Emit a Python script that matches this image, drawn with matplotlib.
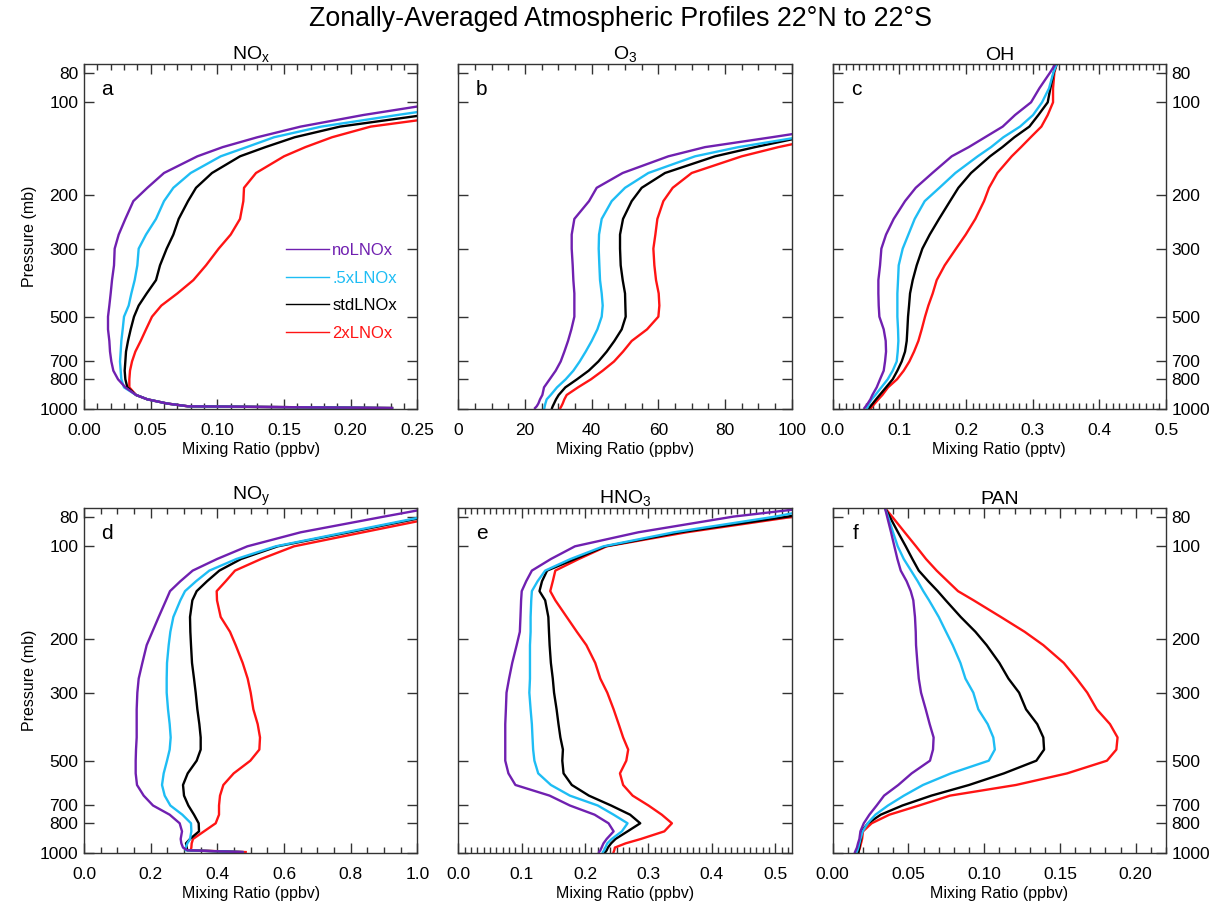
import matplotlib
matplotlib.use("Agg")
import matplotlib.pyplot as plt
from matplotlib.lines import Line2D
from matplotlib.ticker import MultipleLocator, NullLocator, FormatStrFormatter

plt.rcParams['font.family'] = ['Liberation Sans', 'DejaVu Sans']
plt.rcParams['mathtext.default'] = 'regular'

# pressure levels (mb), surface -> top
lev = [993, 980, 960, 930, 900, 850, 800, 750, 700, 650, 600, 550, 500, 460, 420,
       380, 340, 300, 270, 240, 210, 190, 170, 150, 140, 130, 120, 110, 100, 90, 80, 75]

# a) NOx (ppbv)
nox_no = [0.231, 0.078, 0.0625, 0.0475, 0.039, 0.031, 0.0255, 0.022, 0.0205, 0.0195, 0.019, 0.018,
          0.018, 0.019, 0.020, 0.021, 0.0225, 0.023, 0.026, 0.031, 0.037, 0.0475, 0.060, 0.085,
          0.104, 0.130, 0.1625, 0.2095, 0.27, 0.36, 0.48, 0.55]
nox_half = [0.231, 0.078, 0.0625, 0.0475, 0.039, 0.030, 0.028, 0.0275, 0.027, 0.0275, 0.028, 0.029,
            0.030, 0.0335, 0.0355, 0.038, 0.040, 0.041, 0.0465, 0.054, 0.060, 0.067, 0.080, 0.1025,
            0.122, 0.1425, 0.178, 0.235, 0.30, 0.40, 0.52, 0.60]
nox_std = [0.231, 0.078, 0.0625, 0.0475, 0.039, 0.0325, 0.031, 0.0305, 0.031, 0.0315, 0.033, 0.035,
           0.0375, 0.041, 0.047, 0.054, 0.057, 0.062, 0.067, 0.071, 0.078, 0.084, 0.096, 0.117,
           0.136, 0.158, 0.192, 0.255, 0.32, 0.42, 0.55, 0.62]
nox_2x = [0.231, 0.078, 0.0625, 0.0475, 0.039, 0.034, 0.034, 0.0345, 0.036, 0.0385, 0.0425, 0.0465,
          0.051, 0.058, 0.070, 0.082, 0.0915, 0.101, 0.110, 0.117, 0.1195, 0.120, 0.129, 0.150,
          0.166, 0.186, 0.215, 0.28, 0.36, 0.47, 0.60, 0.68]

# b) O3 (ppbv)
o3_no = [23, 23.5, 24, 24.5, 25.2, 25.7, 27.4, 29.2, 30.7, 31.8, 32.9, 33.9, 34.8, 34.8, 34.8,
         34.5, 34.3, 34, 34, 34.8, 39.2, 41.5, 49.3, 63, 74, 94, 115, 135, 170, 220, 280, 350]
o3_half = [25.8, 25.9, 26.1, 26.5, 27.7, 29.6, 32.2, 34.5, 36.4, 38.2, 40, 41.7, 43, 43.3, 43,
           42.5, 42.3, 42.1, 42.2, 43, 46, 50, 57, 71, 84, 102, 120, 140, 175, 225, 285, 350]
o3_std = [28.1, 28.3, 28.7, 29.3, 30.1, 32.1, 35.6, 39.1, 42, 44.5, 46.8, 49, 50.2, 50.1, 50,
          49.3, 48.7, 48.5, 48.5, 49.4, 52, 55, 62, 77, 89, 103, 125, 145, 180, 230, 290, 350]
o3_2x = [30.6, 30.9, 31.3, 31.8, 32.5, 35.9, 39.8, 43.3, 46.7, 49.4, 52, 56.6, 60, 60.3, 60.1,
         59.3, 58.8, 58.5, 59.1, 59.7, 61.5, 64.3, 70, 85, 96, 110, 130, 155, 190, 240, 300, 360]

# c) OH (pptv)
oh_no = [0.0475, 0.0495, 0.0525, 0.0565, 0.0595, 0.066, 0.071, 0.0765, 0.0785, 0.080, 0.0795, 0.0765,
         0.070, 0.069, 0.0685, 0.0685, 0.071, 0.073, 0.080, 0.0915, 0.1085, 0.1245, 0.1495, 0.1785,
         0.204, 0.2285, 0.255, 0.2735, 0.2975, 0.310, 0.326, 0.334]
oh_half = [0.0515, 0.053, 0.0545, 0.0585, 0.064, 0.073, 0.0825, 0.090, 0.096, 0.0975, 0.0985, 0.098,
           0.097, 0.097, 0.097, 0.098, 0.099, 0.105, 0.1135, 0.123, 0.138, 0.160, 0.184, 0.2175,
           0.2375, 0.256, 0.281, 0.3005, 0.314, 0.3245, 0.331, 0.336]
oh_std = [0.0545, 0.0565, 0.060, 0.065, 0.0705, 0.080, 0.090, 0.097, 0.1035, 0.1085, 0.111, 0.112,
          0.113, 0.1145, 0.116, 0.120, 0.126, 0.1345, 0.1455, 0.1595, 0.176, 0.1885, 0.2075, 0.236,
          0.2545, 0.2725, 0.295, 0.3085, 0.3225, 0.3265, 0.3315, 0.336]
oh_2x = [0.0575, 0.0595, 0.063, 0.0685, 0.0745, 0.083, 0.0965, 0.1065, 0.115, 0.122, 0.1285, 0.1335,
         0.1385, 0.1435, 0.150, 0.156, 0.168, 0.185, 0.1995, 0.214, 0.227, 0.2345, 0.247, 0.2685,
         0.2825, 0.297, 0.313, 0.3225, 0.3305, 0.3305, 0.3325, 0.336]

# d) NOy (ppbv)
noy_no = [0.475, 0.31, 0.297, 0.292, 0.29, 0.294, 0.287, 0.257, 0.207, 0.179, 0.159, 0.155,
          0.155, 0.156, 0.158, 0.158, 0.158, 0.160, 0.164, 0.175, 0.188, 0.205, 0.224, 0.246,
          0.258, 0.289, 0.326, 0.399, 0.49, 0.65, 0.90, 1.04]
noy_half = [0.475, 0.305, 0.305, 0.31, 0.318, 0.322, 0.321, 0.295, 0.259, 0.242, 0.234, 0.239,
            0.249, 0.257, 0.26, 0.257, 0.252, 0.248, 0.248, 0.249, 0.254, 0.259, 0.268, 0.289,
            0.303, 0.336, 0.376, 0.457, 0.575, 0.785, 1.02, 1.10]
noy_std = [0.475, 0.31, 0.308, 0.306, 0.318, 0.345, 0.344, 0.33, 0.313, 0.30, 0.297, 0.311,
           0.338, 0.35, 0.35, 0.346, 0.34, 0.335, 0.33, 0.324, 0.321, 0.319, 0.318, 0.325,
           0.338, 0.369, 0.406, 0.471, 0.581, 0.795, 1.03, 1.10]
noy_2x = [0.485, 0.32, 0.322, 0.323, 0.327, 0.36, 0.395, 0.405, 0.405, 0.408, 0.418, 0.449,
          0.499, 0.526, 0.528, 0.521, 0.508, 0.50, 0.491, 0.476, 0.455, 0.438, 0.41, 0.399,
          0.398, 0.425, 0.453, 0.531, 0.63, 0.837, 1.07, 1.15]

# e) HNO3 (ppbv)
hno3_no = [0.222, 0.224, 0.226, 0.229, 0.234, 0.245, 0.237, 0.215, 0.176, 0.144, 0.09, 0.079,
           0.074, 0.074, 0.074, 0.074, 0.075, 0.076, 0.08, 0.085, 0.092, 0.097, 0.098, 0.099,
           0.10, 0.107, 0.116, 0.146, 0.184, 0.284, 0.434, 0.55]
hno3_half = [0.228, 0.23, 0.232, 0.235, 0.242, 0.258, 0.267, 0.245, 0.22, 0.176, 0.146, 0.126,
             0.12, 0.118, 0.117, 0.116, 0.114, 0.112, 0.113, 0.113, 0.113, 0.114, 0.114, 0.115,
             0.116, 0.125, 0.137, 0.177, 0.229, 0.34, 0.50, 0.57]
hno3_std = [0.232, 0.234, 0.236, 0.241, 0.248, 0.267, 0.287, 0.271, 0.241, 0.206, 0.179, 0.166,
            0.164, 0.165, 0.161, 0.158, 0.155, 0.151, 0.149, 0.146, 0.144, 0.143, 0.142, 0.137,
            0.128, 0.132, 0.14, 0.184, 0.232, 0.35, 0.52, 0.60]
hno3_2x = [0.245, 0.246, 0.247, 0.264, 0.288, 0.325, 0.337, 0.321, 0.30, 0.275, 0.26, 0.255,
           0.265, 0.268, 0.26, 0.253, 0.245, 0.235, 0.224, 0.216, 0.202, 0.187, 0.171, 0.153,
           0.145, 0.149, 0.153, 0.19, 0.234, 0.36, 0.53, 0.62]

# f) PAN (ppbv)
pan_no = [0.0147, 0.0152, 0.016, 0.0167, 0.0176, 0.0183, 0.0205, 0.0242, 0.029, 0.0339, 0.0433, 0.0521,
          0.0642, 0.0662, 0.0666, 0.064, 0.0614, 0.0583, 0.0568, 0.0559, 0.055, 0.0548, 0.0543, 0.0532,
          0.0515, 0.0488, 0.0449, 0.0427, 0.0407, 0.0385, 0.0359, 0.0345]
pan_half = [0.0158, 0.0163, 0.0169, 0.0176, 0.0183, 0.0198, 0.0231, 0.0282, 0.0365, 0.047, 0.0596, 0.078,
            0.103, 0.107, 0.106, 0.1023, 0.0961, 0.0928, 0.0876, 0.0843, 0.0792, 0.0748, 0.070, 0.0636,
            0.0598, 0.0561, 0.0517, 0.0469, 0.0429, 0.0398, 0.0365, 0.0345]
pan_std = [0.017, 0.0172, 0.0176, 0.018, 0.0187, 0.019, 0.0233, 0.0317, 0.046, 0.0651, 0.09, 0.113,
           0.1344, 0.1395, 0.139, 0.135, 0.1276, 0.123, 0.116, 0.11, 0.1016, 0.0942, 0.0845, 0.0746,
           0.0693, 0.0631, 0.0568, 0.0526, 0.0482, 0.0431, 0.0376, 0.0345]
pan_2x = [0.017, 0.0174, 0.018, 0.0187, 0.0194, 0.020, 0.0257, 0.0374, 0.057, 0.0774, 0.121, 0.1547,
          0.181, 0.1872, 0.188, 0.183, 0.1743, 0.168, 0.161, 0.1525, 0.139, 0.1267, 0.111, 0.093,
          0.0827, 0.0759, 0.0686, 0.0616, 0.055, 0.0475, 0.0392, 0.0345]

run_names = ['noLNOx', '.5xLNOx', 'stdLNOx', '2xLNOx']
run_colors = ['#7020b0', '#1ebdf4', 'black', '#ff1414']
p_ticks = [80, 100, 200, 300, 500, 700, 800, 1000]

panels = [
    ('a', 'NO$_x$', 'Mixing Ratio (ppbv)', (0, 0.25), 0.05, 0.01, '%.2f', [nox_no, nox_half, nox_std, nox_2x]),
    ('b', 'O$_3$', 'Mixing Ratio (ppbv)', (0, 100), 20, 5, '%d', [o3_no, o3_half, o3_std, o3_2x]),
    ('c', 'OH', 'Mixing Ratio (pptv)', (0, 0.5), 0.1, 0.01, '%.1f', [oh_no, oh_half, oh_std, oh_2x]),
    ('d', 'NO$_y$', 'Mixing Ratio (ppbv)', (0, 1.0), 0.2, 0.05, '%.1f', [noy_no, noy_half, noy_std, noy_2x]),
    ('e', 'HNO$_3$', 'Mixing Ratio (ppbv)', (0, 0.526), 0.1, 0.01, '%.1f', [hno3_no, hno3_half, hno3_std, hno3_2x]),
    ('f', 'PAN', 'Mixing Ratio (ppbv)', (0, 0.22), 0.05, 0.01, '%.2f', [pan_no, pan_half, pan_std, pan_2x]),
]

fig, axes = plt.subplots(2, 3, figsize=(12.14, 9.09), dpi=100)
fig.subplots_adjust(left=0.0692, right=0.9605, top=0.9296, bottom=0.0616, wspace=0.123, hspace=0.287)

for i, (ax, (letter, title, xlab, xlim, major, minor, fmt, series)) in enumerate(zip(axes.flat, panels)):
    # draw 2x first so purple ends on top
    for vals, c in reversed(list(zip(series, run_colors))):
        ax.plot(vals, lev, color=c, lw=1.7)
    ax.set_yscale('log')
    ax.set_ylim(1000, 75)
    ax.set_yticks(p_ticks)
    ax.set_yticklabels([str(p) for p in p_ticks])
    ax.yaxis.set_minor_locator(NullLocator())
    ax.set_xlim(*xlim)
    ax.xaxis.set_major_locator(MultipleLocator(major))
    ax.xaxis.set_minor_locator(MultipleLocator(minor))
    ax.xaxis.set_major_formatter(FormatStrFormatter(fmt))
    ax.tick_params(which='both', direction='in', top=True, right=True, labelsize=12.5, color='#333333')
    ax.tick_params(which='major', length=7, width=1)
    ax.tick_params(which='minor', length=4, width=1)
    ax.tick_params(axis='x', which='major', pad=10)
    ax.tick_params(axis='y', which='major', pad=4)
    col = i % 3
    if col == 0:
        ax.set_ylabel('Pressure (mb)', fontsize=11.5, labelpad=2)
    elif col == 1:
        ax.tick_params(labelleft=False)
    else:
        ax.tick_params(labelleft=False, labelright=True)
    ax.set_xlabel(xlab, fontsize=11.5, labelpad=3)
    ax.set_title(title, fontsize=14, pad=3)
    ax.text(0.07, 0.925, letter, transform=ax.transAxes, fontsize=15, ha='center', va='center')
    for s in ax.spines.values():
        s.set_linewidth(1.0)
        s.set_color('#333333')

handles = [Line2D([], [], color=c, lw=1) for c in run_colors]
axes[0, 0].legend(handles, run_names, loc='upper left', bbox_to_anchor=(0.58, 0.505), frameon=False,
                  fontsize=12, labelcolor='linecolor', handlelength=2.6, handletextpad=0.2,
                  labelspacing=0.75, borderpad=0)

fig.suptitle('Zonally-Averaged Atmospheric Profiles 22°N to 22°S', fontsize=19.3, x=0.511, y=0.993)

fig.savefig('out.png', dpi=100)
